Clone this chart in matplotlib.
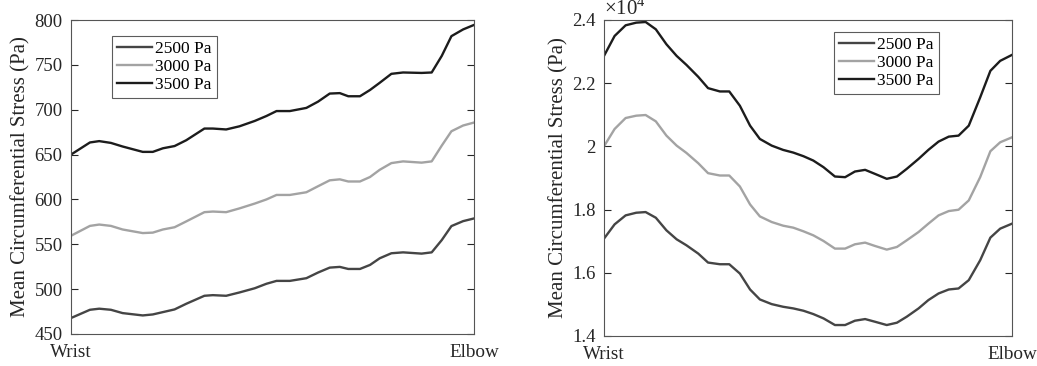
import numpy as np
import matplotlib
matplotlib.use('Agg')
import matplotlib.pyplot as plt
from matplotlib.ticker import FuncFormatter

plt.rcParams['font.family'] = ['Liberation Serif', 'DejaVu Serif']
plt.rcParams['mathtext.fontset'] = 'custom'
plt.rcParams['mathtext.rm'] = 'Liberation Serif'

labels = ['2500 Pa', '3000 Pa', '3500 Pa']
colors = ['#454545', '#a3a3a3', '#1c1c1c']

# left panel: position along vessel (0 = wrist, 1 = elbow)
pos_left = [0, 0.047, 0.070, 0.099, 0.128, 0.178, 0.203, 0.228, 0.257, 0.286,
            0.331, 0.352, 0.385, 0.418, 0.456, 0.485, 0.510, 0.543, 0.584, 0.613,
            0.642, 0.667, 0.688, 0.717, 0.742, 0.766, 0.795, 0.824, 0.870, 0.895,
            0.920, 0.944, 0.973, 1.0]
left_2500 = [467.8, 477.0, 478.2, 477.0, 473.3, 470.7, 471.8, 474.4, 477.4, 483.7,
             492.6, 493.3, 492.6, 496.3, 501.0, 506.0, 509.2, 509.2, 512.2, 518.5,
             524.0, 524.8, 522.5, 522.5, 527.0, 534.4, 540.0, 541.0, 539.6, 541.0,
             554.7, 570.3, 575.8, 578.8]
left_3000 = [559.5, 570.5, 572.0, 570.5, 566.5, 562.5, 563.0, 566.5, 569.0, 575.5,
             585.8, 586.5, 585.8, 590.0, 595.4, 600.0, 605.0, 605.0, 608.0, 614.7,
             621.3, 622.4, 620.0, 620.0, 625.0, 633.0, 640.5, 642.4, 641.0, 642.4,
             660.0, 676.0, 682.4, 685.7]
left_3500 = [650.0, 663.5, 665.0, 663.0, 659.0, 653.0, 653.0, 657.0, 659.5, 666.0,
             679.0, 679.0, 678.0, 681.5, 687.5, 693.0, 698.5, 698.5, 702.0, 709.0,
             718.0, 718.5, 715.0, 715.0, 722.0, 730.0, 740.0, 741.5, 741.0, 741.5,
             760.0, 782.0, 789.5, 794.5]

# right panel
pos_right = [0, 0.026, 0.053, 0.079, 0.102, 0.127, 0.153, 0.178, 0.202, 0.231,
             0.255, 0.284, 0.307, 0.333, 0.358, 0.382, 0.411, 0.439, 0.464, 0.489,
             0.513, 0.538, 0.566, 0.591, 0.615, 0.640, 0.664, 0.693, 0.718, 0.742,
             0.771, 0.795, 0.820, 0.845, 0.869, 0.894, 0.922, 0.947, 0.971, 1.0]
right_2500 = [17081, 17533, 17817, 17901, 17922, 17743, 17344, 17060, 16871, 16608,
              16324, 16271, 16271, 15977, 15472, 15157, 15009, 14925, 14873, 14799,
              14694, 14557, 14347, 14347, 14484, 14536, 14452, 14347, 14421, 14610,
              14873, 15136, 15346, 15472, 15504, 15767, 16397, 17113, 17397, 17555]
right_3000 = [20004, 20551, 20898, 20972, 20993, 20793, 20341, 20025, 19794, 19468,
              19153, 19079, 19079, 18732, 18164, 17785, 17607, 17491, 17428, 17312,
              17186, 17007, 16766, 16766, 16902, 16955, 16850, 16734, 16818, 17028,
              17291, 17554, 17817, 17954, 17996, 18290, 19026, 19847, 20130, 20288]
right_3500 = [22864, 23495, 23832, 23916, 23937, 23706, 23232, 22864, 22580, 22202,
              21844, 21739, 21739, 21287, 20656, 20236, 20025, 19889, 19804, 19689,
              19552, 19342, 19047, 19026, 19205, 19258, 19131, 18974, 19047, 19289,
              19605, 19889, 20152, 20309, 20341, 20656, 21550, 22391, 22707, 22896]

W, H = 1037, 366
fig = plt.figure(figsize=(W / 100, H / 100), dpi=100)
ax1 = fig.add_axes([71 / W, (H - 334) / H, (474 - 71) / W, (334 - 20) / H])
ax2 = fig.add_axes([604 / W, (H - 336) / H, (1012 - 604) / W, (336 - 20) / H])

axis_col = '#262626'

for ax, pos, series in [(ax1, pos_left, [left_2500, left_3000, left_3500]),
                        (ax2, pos_right, [right_2500, right_3000, right_3500])]:
    for ys, c, lab in zip(series, colors, labels):
        ax.plot(pos, ys, color=c, lw=1.7, label=lab)
    ax.set_xlim(0, 1)
    ax.set_xticks([0, 1])
    ax.set_xticklabels(['Wrist', 'Elbow'], fontsize=13.8)
    ax.tick_params(axis='x', length=0, pad=7, colors=axis_col)
    ax.tick_params(axis='y', direction='in', right=True, length=5, labelsize=13.5,
                   colors=axis_col, pad=6)
    for sp in ax.spines.values():
        sp.set_color('#555555')
        sp.set_linewidth(0.8)
    ax.set_ylabel('Mean Circumferential Stress (Pa)', fontsize=15, color=axis_col,
                  labelpad=3)

ax1.set_ylim(450, 800)
ax1.set_yticks(np.arange(450, 801, 50))

ax2.set_ylim(14000, 24000)
ax2.set_yticks(np.arange(14000, 24001, 2000))
ax2.yaxis.set_major_formatter(FuncFormatter(lambda v, p: '%g' % (v / 1e4)))
ax2.text(0.0, 1.0, '×10$^{4}$', transform=ax2.transAxes, fontsize=15,
         color=axis_col, ha='left', va='bottom')

leg_kw = dict(fontsize=12.5, frameon=True, fancybox=False, handlelength=2.0,
              handletextpad=0.2, borderpad=0.3, labelspacing=0.1,
              borderaxespad=0)
l1 = ax1.legend(loc='upper left', bbox_to_anchor=((112 - 71) / 403, 1 - (36 - 20) / 314),
                **leg_kw)
l2 = ax2.legend(loc='upper left', bbox_to_anchor=((834 - 604) / 408, 1 - (32 - 20) / 316),
                **leg_kw)
for l in (l1, l2):
    l.get_frame().set_edgecolor('#333333')
    l.get_frame().set_linewidth(0.8)

fig.savefig('out.png', dpi=100)
